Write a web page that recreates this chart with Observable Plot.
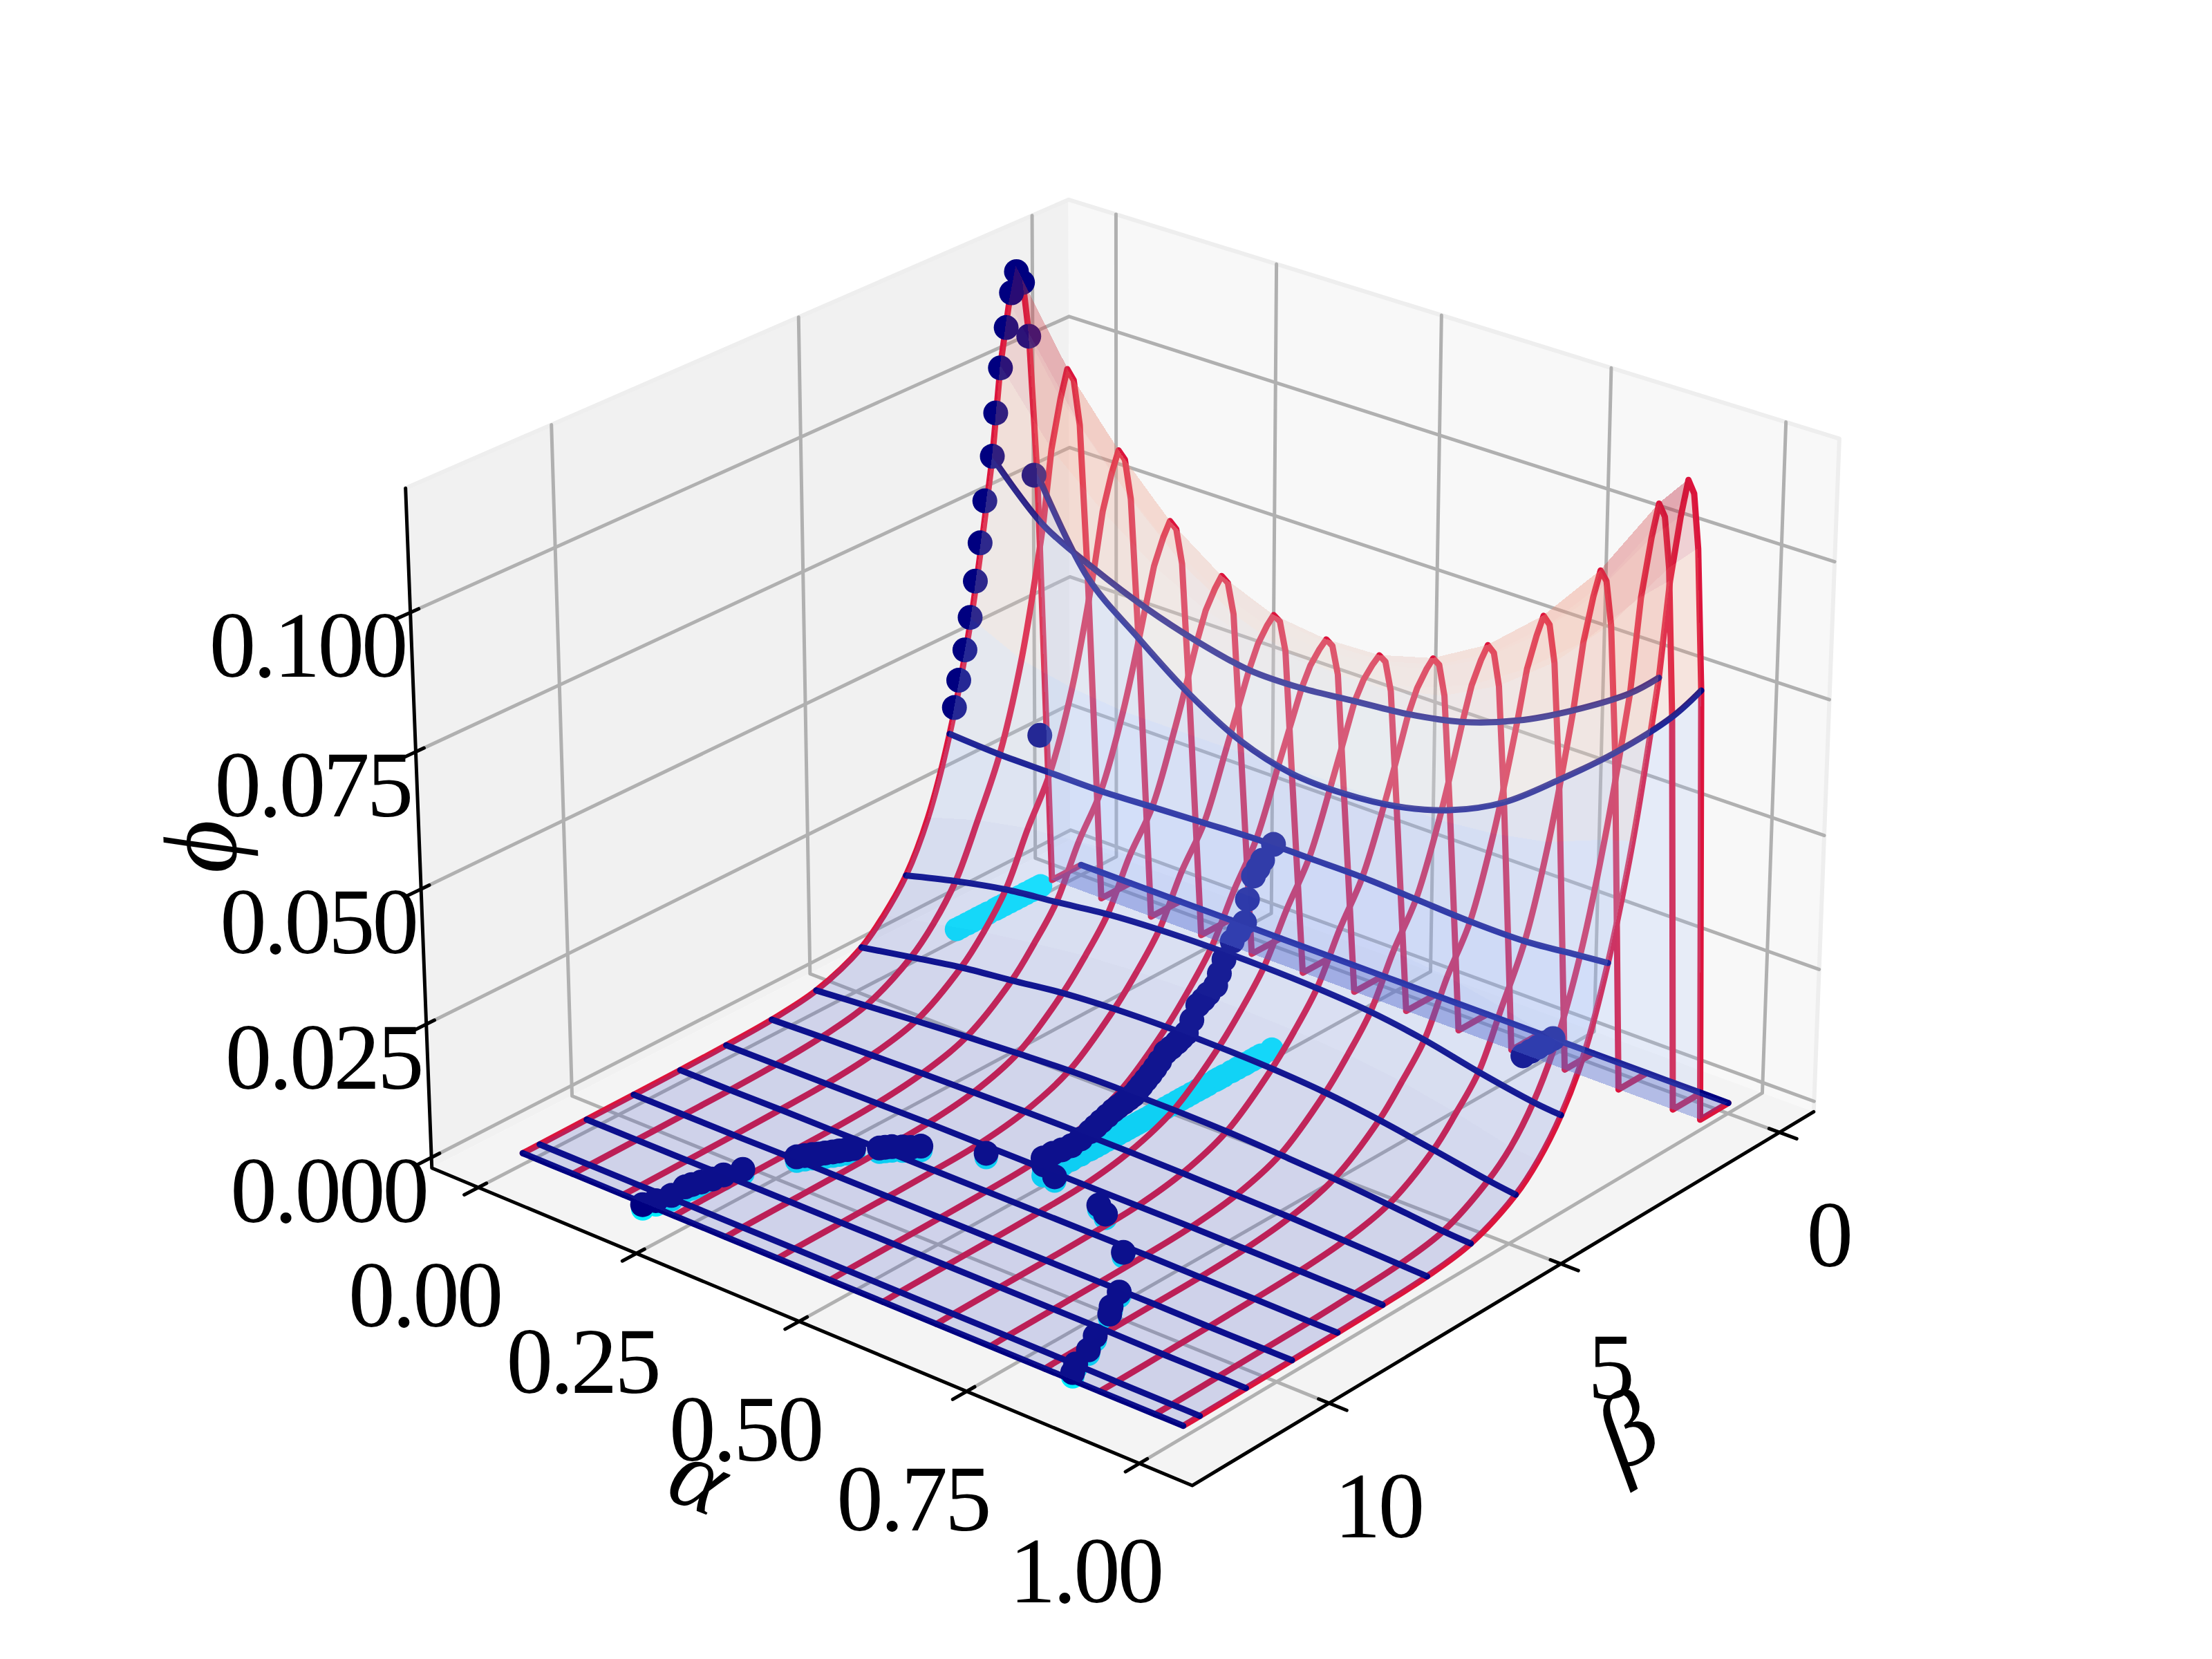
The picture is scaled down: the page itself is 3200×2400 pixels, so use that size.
<!DOCTYPE html>
<html><head><meta charset="utf-8">
<style>html,body{margin:0;padding:0;background:#fff}svg{display:block}</style>
<script src="https://cdn.jsdelivr.net/npm/d3@7"></script>
<script src="https://cdn.jsdelivr.net/npm/@observablehq/plot@0.6"></script>
</head><body><div id="chart"></div>
<script>
// ---------- data ----------
const alphaTicks = [0, 0.25, 0.5, 0.75, 1];
const alphaTickLabels = ["0.00", "0.25", "0.50", "0.75", "1.00"];
const betaTicks = [0, 5, 10];
const betaTickLabels = ["0", "5", "10"];
const phiTicks = [0, 0.025, 0.05, 0.075, 0.1];
const phiTickLabels = ["0.000", "0.025", "0.050", "0.075", "0.100"];

const alphas = [0, .08, .16, .24, .32, .40, .48, .56, .64, .72, .80, .88, .96, 1];
const betas = [0,.66,.95,1.12,1.25,1.39,1.54,1.74,1.93,2.42,2.91,3.4,3.89,4.38,4.87,5.85,6.8,7.76,8.72,9.68,10.64,11.59,11.93];
const blueBetas = [0,.95,1.93,2.91,3.89,4.87,5.85,6.8,7.76,8.72,9.68,10.64,11.59,11.93];
const wallEndBeta = 1.93;
const phiByBeta = [
  [0,0,0,0,0,0,0,0,0,0,0,0,0,0],
  [0,0,0,0,0,0,0,0,0,0,0,0,0,0],
  [.080,.0635,.0553,.048,.0425,.0397,.0394,.0405,.0433,.0483,.056,.0645,.0745,.081],
  [.1072,.093,.0823,.0734,.0672,.0636,.0626,.0629,.0654,.0706,.0783,.0886,.1021,.1072],
  [.1175,.1019,.0902,.0804,.0736,.0697,.0685,.0689,.0717,.0773,.0858,.097,.1118,.1175],
  [.1205,.1045,.0925,.0825,.0755,.0715,.0703,.0707,.0735,.0793,.0880,.0995,.1147,.1205],
  [.1145,.0996,.0889,.08,.0737,.0701,.0691,.0696,.0721,.0772,.085,.0954,.1092,.1146],
  [.1035,.091,.0825,.0755,.0705,.0675,.0669,.0676,.0695,.0734,.0798,.088,.0994,.104],
  [.087,.0775,.0725,.0685,.0655,.0635,.0635,.0645,.0655,.0675,.0712,.0765,.083,.0875],
  [.0585,.054,.052,.051,.051,.051,.0515,.0515,.0515,.0515,.0525,.0545,.0585,.060],
  [.0385,.038,.038,.038,.0385,.039,.0395,.0395,.0395,.039,.0385,.0385,.0395,.040],
  [.0245,.0275,.0295,.0305,.0315,.032,.032,.032,.032,.0315,.0305,.0285,.026,.0255],
  [.0155,.018,.02,.0212,.0225,.0232,.0235,.0235,.0232,.0225,.021,.0188,.017,.0165],
  [.0100,.012,.014,.0155,.0168,.0175,.0178,.0178,.0175,.0168,.0155,.0135,.011,.0105],
  [.006,.0078,.0095,.0107,.012,.0127,.013,.013,.0127,.012,.0107,.009,.0072,.0065],
  [.0022,.003,.0038,.0045,.0051,.0056,.0058,.0058,.0056,.0051,.0045,.0036,.0026,.0023],
  [.001,.0014,.0017,.002,.0022,.0024,.0025,.0025,.0024,.0022,.002,.0016,.0012,.001],
  [.0006,.0007,.0008,.0009,.001,.001,.001,.001,.001,.001,.0009,.0008,.0007,.0006],
  [.0004,.0004,.0005,.0005,.0006,.0006,.0006,.0006,.0006,.0006,.0005,.0005,.0004,.0004],
  [.0003,.0003,.0003,.0004,.0004,.0004,.0004,.0004,.0004,.0004,.0004,.0003,.0003,.0003],
  [.0002,.0002,.0002,.0003,.0003,.0003,.0003,.0003,.0003,.0003,.0003,.0002,.0002,.0002],
  [.0001,.0001,.0001,.0002,.0002,.0002,.0002,.0002,.0002,.0002,.0002,.0001,.0001,.0001],
  [.0001,.0001,.0001,.0001,.0001,.0001,.0001,.0001,.0001,.0001,.0001,.0001,.0001,.0001]
];
// observed points as [alpha, beta, phi]
const ridgeDots = [[0,1.38,.1195],[0,1.25,.117],[0,1.49,.116],[0,1.61,.110],[0,1.74,.103],[0,1.85,.095],[0,1.93,.0872],[0,2.1,.0795],[0,2.21,.072],[0,2.32,.0652],[0,2.44,.0588],[0,2.56,.0531],[0,2.7,.0479],[0,2.8,.0431],[0,1.12,.1065],[0,1.02,.080],[0,.92,.0296]];
const midDots = [[.5,2.82,.039],[.5,3.06,.0371],[.5,3.16,.036],[.5,3.26,.035],[.5,3.39,.0312],[.5,3.45,.0271],[.5,3.58,.026],[.5,3.72,.0248],[.5,3.9,.0222],[.5,4,.02],[.5,4.08,.0181],[.5,4.24,.0173],[.5,4.35,.0167],[.5,4.47,.0162],[.5,4.6,.014],[.5,4.72,.0121],[.5,4.82,.0117],[.5,4.92,.0113],[.5,5.05,.0109],[.5,5.17,.0106],[.5,5.3,.0095],[.5,5.4,.0087],[.5,5.5,.008],[.5,5.6,.0074],[.5,5.7,.0068],[.5,5.78,.0063],[.5,5.87,.0058],[.5,5.97,.0056],[.5,6.08,.0054],[.5,6.2,.0052],[.5,6.3,.005],[.5,6.43,.0046],[.5,6.56,.0042],[.5,6.68,.0038],[.5,6.8,.0034],[.5,7,.003],[.5,7.2,.0027],[.5,7.4,.0029],[.5,7.6,.0032],[.5,7.8,.0033]];
const stripDots = [[.74,0,0],[.74,.17,0],[.74,.35,0],[.74,.52,0],[.74,.7,0]];
const frontDots = [[.20,12.05,.0008],[.205,11.85,.0008],[.21,11.6,.0008],[.208,11.3,.0008],[.21,11.19,.0008],[.214,11.05,.0008],[.219,10.89,.0008],[.222,10.7,.0008],[.23,10.41,.0008],[.257,9.66,.0008],[.262,9.56,.0008],[.267,9.47,.0008],[.272,9.4,.0008],[.276,9.32,.0008],[.281,9.23,.0008],[.285,9.15,.0008],[.29,9.05,.0008],[.294,8.97,.0008],[.316,8.73,.0008],[.32,8.66,.0008],[.325,8.59,.0008],[.335,8.5,.0008],[.343,8.44,.0008],[.35,8.32,.0008],[.42,7.9,.0008],[.49,7.65,.0008],[.519,7.82,.0008],[.603,8.06,.0008],[.623,8.2,.0008],[.698,8.88,.0008],[.755,9.77,.0008],[.77,10.15,.0008],[.78,10.32,.0008],[.80,10.9,.0008],[.815,11.25,.0008],[.825,11.65,.0008],[.835,11.85,.0008]];

// ---------- view ----------
const alphaLim = [-0.075, 1.075], betaLim = [-0.81, 12.82], phiLim = [-0.002, 0.122];
const deg = Math.PI / 180, elev = 25.5 * deg, azim = -50 * deg, dist = 10;
const boxH = 0.5714, boxZ = 0.4286;
const nv = [Math.cos(azim)*Math.cos(elev), Math.sin(azim)*Math.cos(elev), Math.sin(elev)];
const rv = [-Math.sin(azim), Math.cos(azim), 0];
const uv = [-Math.cos(azim)*Math.sin(elev), -Math.sin(azim)*Math.sin(elev), Math.cos(elev)];
const dot3 = (p, q) => p[0]*q[0] + p[1]*q[1] + p[2]*q[2];
function project(a, b, z) {
  const p = [
    boxH * (2*(a-alphaLim[0])/(alphaLim[1]-alphaLim[0]) - 1),
    boxH * (1 - 2*(b-betaLim[0])/(betaLim[1]-betaLim[0])),
    boxZ * (2*(z-phiLim[0])/(phiLim[1]-phiLim[0]) - 1)
  ];
  const d = dist - dot3(p, nv);
  return [dot3(p, rv)/d, dot3(p, uv)/d];
}
const W = 3200, H = 2400, S = 12645, X0 = 1630, Y0 = 1168;
const [aL, aH] = alphaLim, [bL, bH] = betaLim, [zL, zH] = phiLim;

const rowsOf = (pts, id) => pts.map(([a,b,z]) => { const [x,y] = project(a,b,z); return {x,y,id}; });
const seg = (list) => list.flatMap((pts,i) => rowsOf(pts,i));
const quad = (p00,p10,p01,p11,id,color) => {
  const A = project(...p00), B = project(...p10), C = project(...p01), D = project(...p11);
  return [{x1:A[0],y1:A[1],x2:C[0],y2:C[1],id,color},{x1:B[0],y1:B[1],x2:D[0],y2:D[1],id,color}];
};

// panes
const leftPane = quad([aL,bH,zL],[aL,bL,zL],[aL,bH,zH],[aL,bL,zH],"l","#f1f1f1");
const rightPane = quad([aL,bL,zL],[aH,bL,zL],[aL,bL,zH],[aH,bL,zH],"r","#f8f8f8");
const floorPane = quad([aL,bH,zL],[aH,bH,zL],[aL,bL,zL],[aH,bL,zL],"f","#f4f4f4");
const paneEdges = seg([[[aL,bH,zH],[aL,bL,zH],[aH,bL,zH],[aH,bL,zL]]]);

// grid
const grid = seg([
  ...alphaTicks.map(t => [[t,bH,zL],[t,bL,zL],[t,bL,zH]]),
  ...betaTicks.map(t => [[aH,t,zL],[aL,t,zL],[aL,t,zH]]),
  ...phiTicks.map(t => [[aL,bH,t],[aL,bL,t],[aH,bL,t]])
]);
const axes = seg([[[aL,bH,zH],[aL,bH,zL],[aH,bH,zL],[aH,bL,zL]]]);
const ticks = seg([
  ...alphaTicks.map(t => [[t,bH+.28,zL],[t,bH-.16,zL]]),
  ...betaTicks.map(t => [[aH+.025,t,zL],[aH-.015,t,zL]]),
  ...phiTicks.map(t => [[aL,bH+.28,t],[aL,bH-.16,t]])
]);
const labelRows = (vals, labels, f) => vals.map((v,i) => { const [x,y] = project(...f(v)); return {x,y,label:labels[i]}; });

// wireframe: the tall walls are drawn as straight segments, the long tails as smooth curves
const redPoints = (test) => seg(alphas.map((a,i) => betas.flatMap((b,j) => test(b) ? [[a,b,phiByBeta[j][i]]] : [])));
const redWalls = redPoints(b => b <= wallEndBeta);
const redTails = redPoints(b => b >= wallEndBeta);
const blueLines = seg(blueBetas.map(b => { const j = betas.indexOf(b); return alphas.map((a,i) => [a,b,phiByBeta[j][i]]); }));

// surface
const stops = ["#3b4cc0","#8db0fe","#dddddd","#f4987a","#b40426"];
const surfColor = d3.scaleLinear().domain([0,.25,.5,.75,1].map(f => f*.1205)).range(stops).clamp(true);
const surface = [], surfaceStrip = [];
betas.slice(0,-1).forEach((b,j) => alphas.slice(0,-1).forEach((a,i) => {
  const b2 = betas[j+1], a2 = alphas[i+1];
  const v00 = phiByBeta[j][i], v10 = phiByBeta[j][i+1], v01 = phiByBeta[j+1][i], v11 = phiByBeta[j+1][i+1];
  const c = d3.color(surfColor((v00+v10+v01+v11)/4)).formatHex();
  (j === 0 ? surfaceStrip : surface).push(...quad([a,b,v00],[a2,b,v10],[a,b2,v01],[a2,b2,v11],`${i}-${j}`,c));
}));

const allDots = [...ridgeDots, ...midDots, ...stripDots, ...frontDots];
const darkRows = rowsOf(allDots, 0);
const cyanRows = rowsOf(allDots.map(([a,b]) => [a,b,0]), 0);

const font = "Liberation Serif";
const area = (data, o={}) => Plot.area(data, {x1:"x1",y1:"y1",x2:"x2",y2:"y2",z:"id",fill:"color",...o});
const tickText = (data, dx, dy) => Plot.text(data, {x:"x",y:"y",text:"label",dx,dy,fontSize:135,fontFamily:font,fill:"#000",textAnchor:"middle",lineAnchor:"middle"});
const oneLabel = (p, label, dx, dy, rotate, size) => {
  const [x,y] = project(...p);
  return Plot.text([{x,y,label}], {x:"x",y:"y",text:"label",dx,dy,rotate,fontSize:size,fontFamily:font,fontStyle:"italic",fill:"#000",textAnchor:"middle",lineAnchor:"middle"});
};

const chart = Plot.plot({
  width: W, height: H, margin: 0,
  x: {domain: [(0-X0)/S, (W-X0)/S], range: [0, W], axis: null},
  y: {domain: [Y0/S, (Y0-H)/S], range: [0, H], axis: null},
  style: {background: "#fff", letterSpacing: "-4px"},
  marks: [
    area(leftPane), area(rightPane), area(floorPane),
    Plot.line(paneEdges, {x:"x",y:"y",z:"id",stroke:"#eeeeee",strokeWidth:6}),
    Plot.line(grid, {x:"x",y:"y",z:"id",stroke:"#b0b0b0",strokeWidth:5}),
    Plot.line(axes, {x:"x",y:"y",z:"id",stroke:"#000",strokeWidth:5}),
    Plot.line(ticks, {x:"x",y:"y",z:"id",stroke:"#000",strokeWidth:5}),
    tickText(labelRows(alphaTicks, alphaTickLabels, t => [t,bH,zL]), -78, 158),
    tickText(labelRows(betaTicks, betaTickLabels, t => [aH,t,zL]), 71, 151),
    tickText(labelRows(phiTicks, phiTickLabels, t => [aL,bH,t]), -149, 50),
    oneLabel([.5,bH,zL], "α", -146, 225, 22, 145),
    oneLabel([aH,6,zL], "β", 159, 204, -30, 150),
    oneLabel([aL,bH,.06], "ϕ", -313, 20, -92, 150),
    Plot.dot(cyanRows, {x:"x",y:"y",r:17,fill:"#00eeff"}),
    Plot.line(redWalls, {x:"x",y:"y",z:"id",stroke:"#dc143c",strokeWidth:9,strokeLinejoin:"round"}),
    Plot.line(redTails, {x:"x",y:"y",z:"id",stroke:"#dc143c",strokeWidth:9,curve:"catmull-rom"}),
    Plot.line(blueLines, {x:"x",y:"y",z:"id",stroke:"#000080",strokeWidth:9,curve:"catmull-rom"}),
    Plot.dot(darkRows, {x:"x",y:"y",r:18,fill:"#000080"}),
    area(surface, {fillOpacity:.2, shapeRendering:"crispEdges"}),
    area(surfaceStrip, {fillOpacity:.28, shapeRendering:"crispEdges"})
  ]
});
document.getElementById("chart").appendChild(chart);
</script></body></html>
